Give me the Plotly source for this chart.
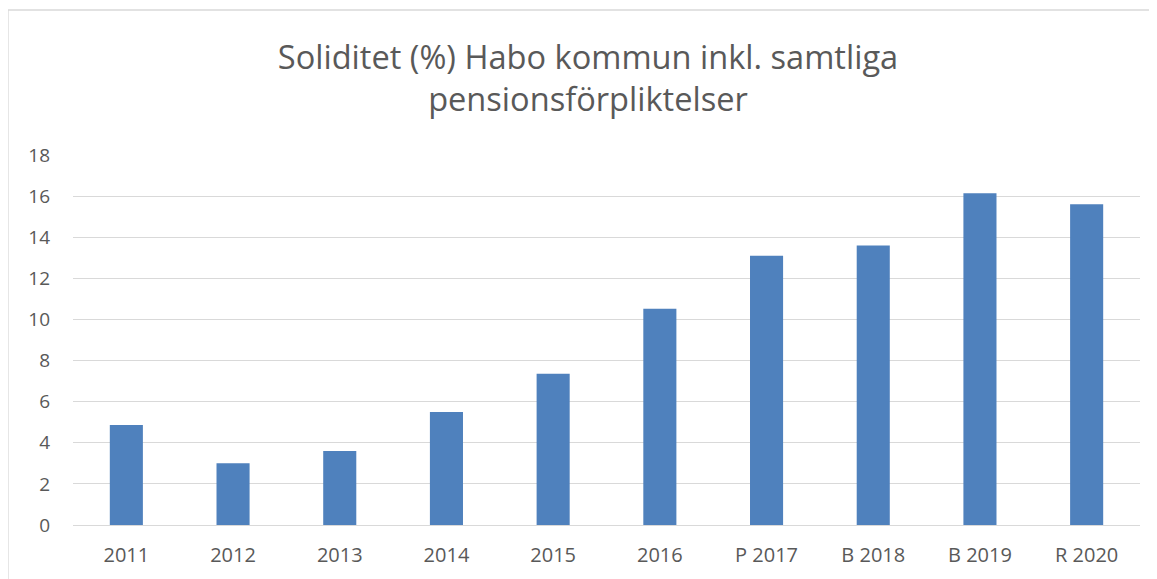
import plotly.graph_objects as go

categories = ["2011", "2012", "2013", "2014", "2015", "2016", "P 2017", "B 2018", "B 2019", "R 2020"]
values = [4.86, 3.0, 3.6, 5.5, 7.36, 10.52, 13.1, 13.6, 16.14, 15.6]
y_ticks = [0, 2, 4, 6, 8, 10, 12, 14, 16, 18]

OFF = 8  # browser body margin
W, H = 1157 - OFF, 579 - OFF
L, R, T, B = 73 - OFF, 17, 155 - OFF, 54

fig = go.Figure(go.Bar(x=categories, y=values, marker=dict(color="#4f81bd", line=dict(width=0))))

fig.update_layout(
    width=W, height=H,
    margin=dict(l=L, r=R, t=T, b=B),
    paper_bgcolor="white", plot_bgcolor="white",
    bargap=0.69,
    showlegend=False,
    font=dict(family="Open Sans", color="#595959"),
    title=dict(
        text="Soliditet (%) Habo kommun inkl. samtliga<br>pensionsförpliktelser",
        x=(588 - OFF) / W, xanchor="center", y=1 - (69 - OFF) / H, yanchor="middle",
        font=dict(family="Open Sans", size=32.6, color="#595959"),
    ),
    xaxis=dict(showgrid=False, showline=False, ticks="", tickfont=dict(size=20, color="#595959"),
               ticklabelstandoff=16, automargin=False),
    yaxis=dict(range=[0, 18], tickvals=y_ticks, showgrid=True, gridcolor="#d9d9d9", gridwidth=1.3,
               zeroline=True, zerolinecolor="#d9d9d9", zerolinewidth=1.3, showline=False, ticks="",
               tickfont=dict(size=19, color="#595959"), ticklabelstandoff=22, automargin=False),
)

# chart border
pw = W - L - R
ph = H - T - B
fig.add_shape(type="rect", xref="paper", yref="paper",
              x0=(8 - OFF - L) / pw, x1=(W + 5 - L) / pw,
              y0=-(B + 5) / ph, y1=1 + (T - (10 - OFF)) / ph,
              line=dict(color="#d9d9d9", width=1.3), fillcolor="rgba(0,0,0,0)", layer="below")

fig.write_html("out.html")
